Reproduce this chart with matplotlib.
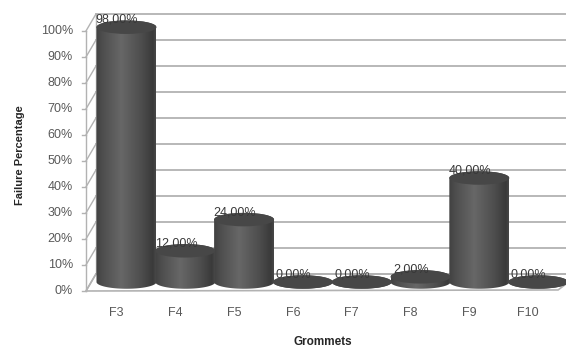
import numpy as np
import matplotlib.pyplot as plt
from matplotlib.colors import LinearSegmentedColormap
from matplotlib.patches import Ellipse, Polygon, PathPatch
from matplotlib.path import Path

grommets = ['F3', 'F4', 'F5', 'F6', 'F7', 'F8', 'F9', 'F10']
failure_pct = [98, 12, 24, 0, 0, 2, 40, 0]
y_ticks = list(range(0, 101, 10))

plt.rcParams['font.family'] = ['Liberation Sans', 'DejaVu Sans']

fig = plt.figure(figsize=(5.66, 3.49), dpi=100)
ax = fig.add_axes([0, 0, 1, 1])
ax.axis('off')
xlim = (-2.151, 7.474)
ylim = (-25.77, 108.46)

# pseudo-3D box: front edge, back wall, bar plane in between
front_x, back_x = -0.689, -0.519
front_dy, back_dy = -3.46, 3.08
right_x = 7.7
bar_w = 1.02
cap_h = 2.6
wall = '#b2b2b2'

# floor
floor = Polygon([(front_x, front_dy), (7.34, front_dy + 0.4),
                 (right_x, back_dy), (back_x, back_dy)],
                facecolor='white', edgecolor=wall, lw=1.2, zorder=1)
ax.add_patch(floor)

# back wall gridlines, side wall and front axis
for t in y_ticks:
    ax.plot([back_x, right_x], [t + back_dy] * 2, color=wall, lw=1.3, zorder=1)
    ax.plot([front_x, back_x], [t + front_dy, t + back_dy], color=wall, lw=1.0, zorder=1)
    ax.plot([front_x - 0.075, front_x], [t + front_dy] * 2, color=wall, lw=1.0, zorder=1)
    ax.text(front_x - 0.22, t + front_dy, f'{t}%', ha='right', va='center',
            color='#595959', fontsize=9)
ax.plot([front_x, front_x], [front_dy, 100 + front_dy], color=wall, lw=1.0, zorder=1)
ax.plot([back_x, back_x], [back_dy, 100 + back_dy], color=wall, lw=1.0, zorder=1)

# cylinders, drawn right to left so the left one sits in front
cmap = LinearSegmentedColormap.from_list(
    'cyl', [(0, '#414141'), (0.1, '#4d4d4d'), (0.42, '#676767'),
            (0.75, '#4e4e4e'), (0.95, '#3a3a3a'), (1, '#474747')])
grad = np.linspace(0, 1, 256)[None, :]
theta = np.linspace(0, np.pi, 80)
n = len(grommets)
for i in reversed(range(n)):
    v = failure_pct[i]
    rx = bar_w / 2
    z = 10 + (n - i) * 2
    top_arc = np.column_stack([i + rx * np.cos(theta), v + cap_h * np.sin(theta)])
    bot_arc = np.column_stack([i - rx * np.cos(theta), -cap_h * np.sin(theta)])
    verts = np.vstack([top_arc, bot_arc, top_arc[:1]])
    body = PathPatch(Path(verts, closed=True), facecolor='none', edgecolor='none')
    ax.add_patch(body)
    im = ax.imshow(grad, cmap=cmap, extent=(i - rx, i + rx, -cap_h, v + cap_h),
                   aspect='auto', interpolation='bilinear', zorder=z)
    im.set_clip_path(body)
    ax.add_patch(Ellipse((i, v), bar_w, 2 * cap_h, facecolor='#474747',
                         edgecolor='none', zorder=z + 1))

# value labels
for i, v in enumerate(failure_pct):
    ax.text(i - 0.16, v + 2.9, f'{v:.2f}%'.replace('.', ','), ha='center',
            va='center', color='#383838', fontsize=9, zorder=100)

# category labels
for i, g in enumerate(grommets):
    ax.text(i - 0.17, -11.9, g, ha='center', va='center', color='#595959', fontsize=9)

fig.text(20 / 566, 1 - 155 / 349, 'Failure Percentage', rotation=90, ha='center',
         va='center', fontsize=8, fontweight='bold', color='#262626')
fig.text(323 / 566, 1 - 342 / 349, 'Grommets', ha='center', va='center',
         fontsize=8.5, fontweight='bold', color='#262626')

ax.set_xlim(*xlim)
ax.set_ylim(*ylim)
fig.savefig('out.png', dpi=100)
